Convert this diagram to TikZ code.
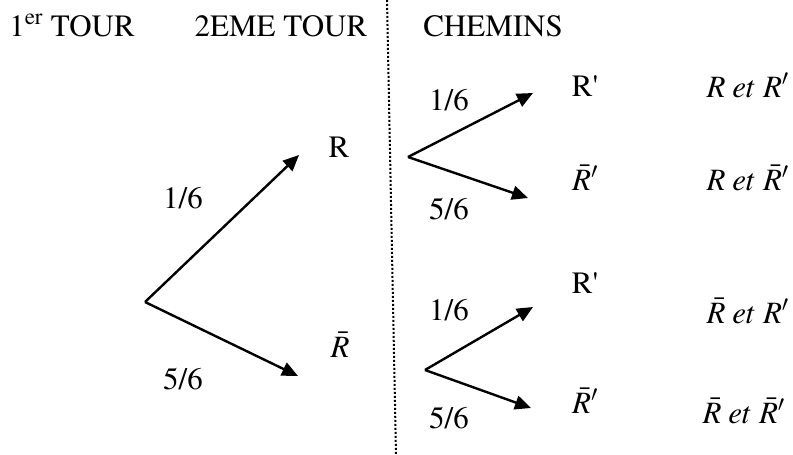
\documentclass[tikz,border=0pt]{standalone}
\usepackage[T1]{fontenc}
\usepackage{mathptmx}
\usetikzlibrary{arrows.meta,positioning}
\tikzset{
  branch/.style={line width=2.4pt,-{Triangle[length=16pt,width=14pt]}},
  lbl/.style={font=\fontsize{31}{36}\selectfont,inner sep=0pt,anchor=base},
  path/.style={lbl,anchor=base east},
  divider/.style={line width=2pt,dash pattern=on 2pt off 2pt},
}

\begin{document}
\begin{tikzpicture}[x=1pt,y=-1pt]
  \useasboundingbox (0,0) rectangle (793,455);
  % column titles
  \node[lbl] (tour1) at (72,36) {1\textsuperscript{er} TOUR};
  \node[lbl] (tour2) at (281,36) {2EME TOUR};
  \node[lbl] (chem) at (493,36) {CHEMINS};
  \coordinate (divtop) at (387,0);
  \coordinate (divbot) at (396,455);
  \draw[divider] (divtop) -- (divbot);
  % first draw
  \coordinate (o) at (145,302);
  \coordinate (tR) at (299,155);
  \coordinate (tRb) at (298,376);
  \node[lbl] (R) at (339,157) {R};
  \node[lbl] (Rb) at (340,357) {$\bar{R}$};
  \draw[branch] (o) -- (tR);
  \draw[branch] (o) -- (tRb);
  \node[lbl] (p1) at (183,208) {1/6};
  \node[lbl] (p2) at (183,389) {5/6};
  % second draw after R
  \coordinate (oR) at (408,157);
  \coordinate (tRR) at (533,93);
  \coordinate (tRRb) at (528,198);
  \draw[branch] (oR) -- (tRR);
  \draw[branch] (oR) -- (tRRb);
  \node[lbl] (p3) at (449,110) {1/6};
  \node[lbl] (p4) at (449,219) {5/6};
  \node[lbl] (RR) at (585,96) {R\textquotesingle};
  \node[lbl] (RRb) at (585,190) {$\bar{R}'$};
  \node[path] (c1) at (789,97) {$R\;et\;R'$};
  \node[path] (c2) at (789,190) {$R\;et\;\bar{R}'$};
  % second draw after R bar
  \coordinate (oRb) at (425,370);
  \coordinate (tRbR) at (533,307);
  \coordinate (tRbRb) at (531,408);
  \draw[branch] (oRb) -- (tRbR);
  \draw[branch] (oRb) -- (tRbRb);
  \node[lbl] (p5) at (449,320) {1/6};
  \node[lbl] (p6) at (449,428) {5/6};
  \node[lbl] (RbR) at (585,293) {R\textquotesingle};
  \node[lbl] (RbRb) at (585,413) {$\bar{R}'$};
  \node[path] (c3) at (789,323) {$\bar{R}\;et\;R'$};
  \node[path] (c4) at (785,423) {$\bar{R}\;et\;\bar{R}'$};
\end{tikzpicture}
\end{document}
